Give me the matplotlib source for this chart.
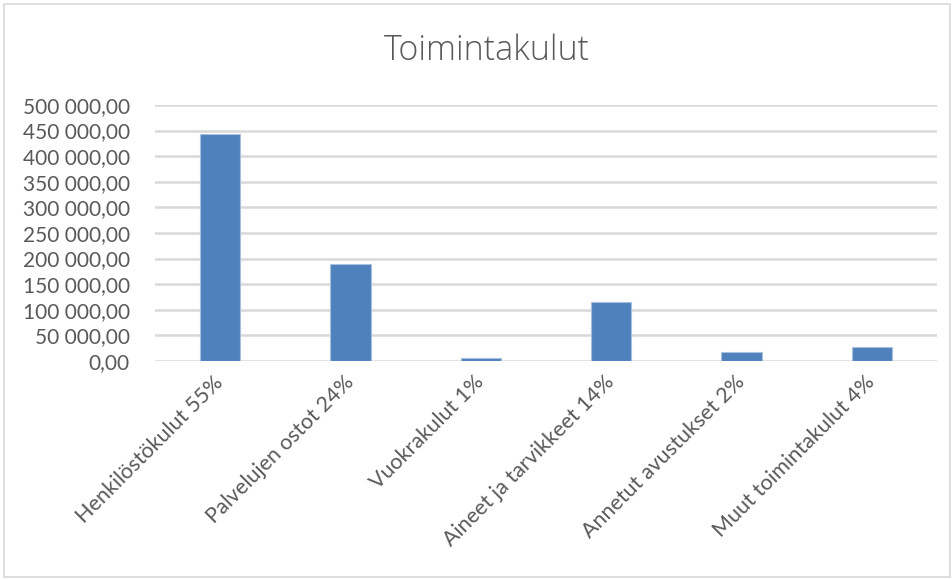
import matplotlib.pyplot as plt
from matplotlib.patches import Rectangle
from matplotlib.ticker import FuncFormatter, MultipleLocator

# kategoriat ja summat (luettu kuvasta)
categories = ['Henkilöstökulut 55%', 'Palvelujen ostot 24%', 'Vuokrakulut 1%',
              'Aineet ja tarvikkeet 14%', 'Annetut avustukset 2%', 'Muut toimintakulut 4%']
values = [443000, 188500, 6600, 116000, 17000, 27400]

plt.rcParams['font.family'] = ['Lato', 'DejaVu Sans']
txt = '#595959'

fig = plt.figure(figsize=(9.52, 5.79), dpi=100)
ax = fig.add_axes([0.1628, 0.3765, 0.8214, 0.4422])

x = range(len(categories))
ax.bar(x, values, width=0.31, color='#4F81BD', edgecolor='#A7C0DE', linewidth=0.8, zorder=3)

ax.set_ylim(0, 500000)
ax.set_xlim(-0.5, len(categories) - 0.5)
ax.yaxis.set_major_locator(MultipleLocator(50000))
ax.yaxis.set_major_formatter(FuncFormatter(lambda v, p: '{:,.2f}'.format(v).replace(',', ' ').replace('.', ',')))
ax.grid(axis='y', color='#D9D9D9', linewidth=1.8, zorder=0)
for s in ax.spines.values():
    s.set_visible(False)
ax.tick_params(axis='y', length=0, pad=18, labelsize=15, labelcolor=txt)
ax.tick_params(axis='x', length=0, pad=13)
ax.set_xticks(list(x))
ax.set_xticklabels(categories, rotation=45, ha='right', va='center', rotation_mode='anchor',
                   fontsize=15.5, color=txt)

fig.text(0.511, 0.912, 'Toimintakulut', ha='center', va='center', fontsize=24.5,
         color=txt, family=['Open Sans', 'Lato'], fontweight=300)

fig.patches.append(Rectangle((4 / 952, 2 / 579), 946 / 952, 573 / 579, transform=fig.transFigure,
                             fill=False, edgecolor='#D9D9D9', linewidth=1.2))

fig.savefig('out.png', dpi=100)
